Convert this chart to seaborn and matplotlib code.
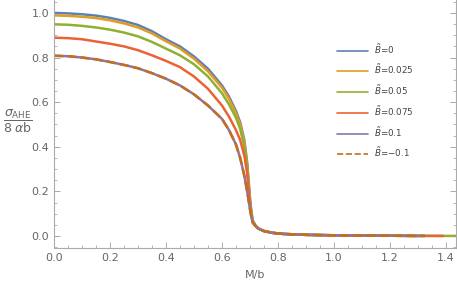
import numpy as np
import pandas as pd
import matplotlib
matplotlib.use("Agg")
import matplotlib.pyplot as plt
import seaborn as sns
from matplotlib.ticker import MultipleLocator

# M/b sample points
m_vals = [0.0, 0.05, 0.1, 0.15, 0.2, 0.25, 0.3, 0.35, 0.4, 0.45, 0.5, 0.55, 0.6,
          0.625, 0.65, 0.665, 0.68, 0.69, 0.70, 0.705, 0.71, 0.72, 0.73, 0.75,
          0.78, 0.82, 0.9, 1.0, 1.2, 1.45]

tail = [0.045, 0.033, 0.022, 0.014, 0.009, 0.005, 0.003, 0.001, 0.0]

sig_b0 = [1.0, 0.998, 0.994, 0.988, 0.978, 0.964, 0.946, 0.918, 0.882, 0.85, 0.805,
          0.75, 0.675, 0.625, 0.56, 0.51, 0.43, 0.33, 0.17, 0.11, 0.07] + tail
sig_b025 = [0.989, 0.987, 0.983, 0.977, 0.967, 0.953, 0.935, 0.908, 0.873, 0.84, 0.795,
            0.738, 0.665, 0.615, 0.55, 0.50, 0.42, 0.32, 0.16, 0.105, 0.068] + tail
sig_b05 = [0.949, 0.947, 0.942, 0.935, 0.925, 0.912, 0.895, 0.87, 0.84, 0.81, 0.77,
           0.715, 0.64, 0.59, 0.53, 0.48, 0.40, 0.31, 0.155, 0.10, 0.065] + tail
sig_b075 = [0.889, 0.887, 0.882, 0.872, 0.862, 0.85, 0.833, 0.81, 0.785, 0.757, 0.715,
            0.66, 0.585, 0.535, 0.475, 0.43, 0.36, 0.28, 0.14, 0.09, 0.06] + tail
sig_b1 = [0.808, 0.806, 0.80, 0.792, 0.78, 0.767, 0.752, 0.73, 0.705, 0.675, 0.635,
          0.585, 0.525, 0.475, 0.41, 0.35, 0.27, 0.20, 0.12, 0.085, 0.06] + tail

labels = [r"$\tilde{B}$=0", r"$\tilde{B}$=0.025", r"$\tilde{B}$=0.05",
          r"$\tilde{B}$=0.075", r"$\tilde{B}$=0.1", r"$\tilde{B}$=$-$0.1"]
series = [sig_b0, sig_b025, sig_b05, sig_b075, sig_b1, sig_b1]
m_end = [1.3, 1.3, 1.45, 1.39, 1.325, 1.325]  # where each curve stops
colors = ["#5E81B5", "#E19C24", "#8FB032", "#EB6235", "#8778B3", "#C56E1A"]
styles = ["-", "-", "-", "-", "-", "--"]

sns.set_style("ticks")
plt.rcParams["font.family"] = ["DejaVu Sans"]
plt.rcParams["mathtext.fontset"] = "dejavusans"

fig = plt.figure(figsize=(4.57, 2.83), dpi=100)
ax = fig.add_axes([54 / 457, 35 / 283, 402 / 457, 248 / 283])

gray = "#666666"
for lab, ys, end, c, ls in zip(labels, series, m_end, colors, styles):
    df = pd.DataFrame({"M": m_vals, "sigma": ys})
    df = df[df["M"] <= end]
    if end > df["M"].max():
        df = pd.concat([df, pd.DataFrame({"M": [end], "sigma": [0.0]})])
    sns.lineplot(data=df, x="M", y="sigma", ax=ax, color=c, linestyle=ls,
                 linewidth=1.8, label=lab, sort=False)

ax.set_xlim(0, 1.436)
ax.set_ylim(-0.054, 1.058)
ax.xaxis.set_major_locator(MultipleLocator(0.2))
ax.xaxis.set_minor_locator(MultipleLocator(0.05))
ax.yaxis.set_major_locator(MultipleLocator(0.2))
ax.yaxis.set_minor_locator(MultipleLocator(0.05))
ax.set_xticklabels([f"{v:.1f}" for v in ax.get_xticks()])
ax.set_yticklabels([f"{v:.1f}" for v in ax.get_yticks()])

for side in ["left", "bottom", "right"]:
    ax.spines[side].set_color("#aaaaaa")
    ax.spines[side].set_linewidth(0.8)
ax.spines["top"].set_visible(False)
ax.tick_params(which="both", direction="in", color="#aaaaaa", labelcolor=gray,
               labelsize=8, right=True, labelright=False)
ax.tick_params(which="major", length=4, width=0.7)
ax.tick_params(which="minor", length=2, width=0.6)

ax.set_xlabel("M/b", color=gray, fontsize=8)
ax.xaxis.set_label_coords(0.5, -0.09)
ax.set_ylabel(r"$\dfrac{\sigma_{\rm AHE}}{8\;\alpha\mathrm{b}}$", color=gray,
              fontsize=9, rotation=0, ha="center", va="center")
ax.yaxis.set_label_coords(-0.09, 0.51)

leg = ax.legend(loc="upper left", bbox_to_anchor=(0.695, 0.845), frameon=False,
                fontsize=6.3, handlelength=3.6, labelspacing=0.8, handletextpad=0.6,
                borderaxespad=0)
for t in leg.get_texts():
    t.set_color("#444444")
for h in leg.get_lines():
    h.set_linewidth(1.2)

fig.savefig("out.png", dpi=100)
